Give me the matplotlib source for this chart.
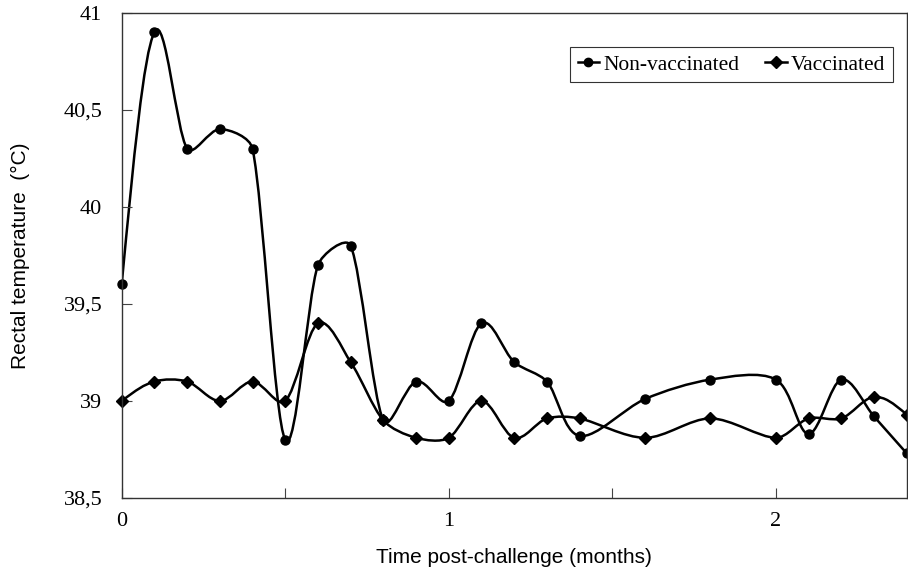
import numpy as np
import matplotlib
matplotlib.use("Agg")
import matplotlib.pyplot as plt
from matplotlib.path import Path
from matplotlib.patches import PathPatch
from matplotlib.lines import Line2D

# ---- data ----
nonvac_x = [0.0, 0.1, 0.2, 0.3, 0.4, 0.5, 0.6, 0.7, 0.8, 0.9, 1.0, 1.1, 1.2, 1.3, 1.4,
            1.6, 1.8, 2.0, 2.1, 2.2, 2.3, 2.4]
nonvac_y = [39.6, 40.9, 40.3, 40.4, 40.3, 38.8, 39.7, 39.8, 38.9, 39.1, 39.0, 39.4, 39.2, 39.1, 38.82,
            39.01, 39.11, 39.11, 38.83, 39.11, 38.92, 38.73]
vac_x = [0.0, 0.1, 0.2, 0.3, 0.4, 0.5, 0.6, 0.7, 0.8, 0.9, 1.0, 1.1, 1.2, 1.3, 1.4,
         1.6, 1.8, 2.0, 2.1, 2.2, 2.3, 2.4]
vac_y = [39.0, 39.1, 39.1, 39.0, 39.1, 39.0, 39.4, 39.2, 38.9, 38.81, 38.81, 39.0, 38.81, 38.91, 38.91,
         38.81, 38.91, 38.81, 38.91, 38.91, 39.02, 38.93]
series_labels = ["Non-vaccinated", "Vaccinated"]
xticks = [0, 0.5, 1, 1.5, 2]
xticklabels = ["0", "", "1", "", "2"]
yticks = [38.5, 39, 39.5, 40, 40.5, 41]
yticklabels = ["38,5", "39", "39,5", "40", "40,5", "41"]
xlabel = "Time post-challenge (months)"
ylabel = "Rectal temperature  (°C)"


def smooth_path(ax, xs, ys, k=0.3, kend=0.5):
    """Smoothed-line Bezier path (Catmull-Rom tangents computed in display
    space, handle lengths limited by the adjacent segment length)."""
    P = ax.transData.transform(np.column_stack([xs, ys]).astype(float))
    n = len(P)

    def unit(v):
        L = np.hypot(*v)
        return (v / L, L) if L > 0 else (v * 0, 0.0)

    back = [None] * n
    fwd = [None] * n
    for i in range(1, n - 1):
        tan = (P[i + 1] - P[i - 1]) / 6.0
        d, L = unit(tan)
        dprev = np.hypot(*(P[i] - P[i - 1]))
        dnext = np.hypot(*(P[i + 1] - P[i]))
        back[i] = P[i] - d * min(L, k * dprev)
        fwd[i] = P[i] + d * min(L, k * dnext)
    # end points: aim toward the neighbour's handle
    d, _ = unit(back[1] - P[0])
    fwd[0] = P[0] + d * kend * np.hypot(*(P[1] - P[0]))
    d, _ = unit(fwd[n - 2] - P[n - 1])
    back[n - 1] = P[n - 1] + d * kend * np.hypot(*(P[n - 1] - P[n - 2]))

    out = [P[0]]
    codes = [Path.MOVETO]
    for i in range(n - 1):
        out += [fwd[i], back[i + 1], P[i + 1]]
        codes += [Path.CURVE4] * 3
    verts = ax.transData.inverted().transform(np.array(out))
    return Path(verts, codes)


fig = plt.figure(figsize=(9.08, 5.74), dpi=100)
ax = fig.add_axes([0.134, 0.1324, 0.8646, 0.8455])
ax.set_xlim(0, 2.4)
ax.set_ylim(38.5, 41)

lw = 1.8
for xs, ys, mk, ms in [(nonvac_x, nonvac_y, "o", 6.5), (vac_x, vac_y, "D", 6.5)]:
    ax.add_patch(PathPatch(smooth_path(ax, xs, ys), fill=False, edgecolor="black", lw=lw))
    ax.plot(xs, ys, linestyle="none", marker=mk, markersize=ms, color="black", clip_on=False)

ax.set_xticks(xticks)
ax.set_xticklabels(xticklabels)
ax.set_yticks(yticks)
ax.set_yticklabels(yticklabels)

serif = ["Liberation Serif", "DejaVu Serif"]
sans = ["Liberation Sans", "DejaVu Sans"]
for lab in ax.get_xticklabels() + ax.get_yticklabels():
    lab.set_fontfamily(serif)
    lab.set_fontsize(16)
ax.tick_params(axis="both", direction="in", length=7, width=0.8, color="#444444")
ax.tick_params(axis="y", pad=14)
ax.tick_params(axis="x", pad=10)
for s in ax.spines.values():
    s.set_linewidth(1.0)
    s.set_color("#333333")

ax.set_xlabel(xlabel, fontfamily=sans, fontsize=15, labelpad=12)
ax.set_ylabel(ylabel, fontfamily=sans, fontsize=15, labelpad=24)

handles = [Line2D([], [], color="black", lw=lw, marker="o", markersize=6),
           Line2D([], [], color="black", lw=lw, marker="D", markersize=6)]
leg = ax.legend(handles, series_labels, loc="upper right", ncol=2,
                bbox_to_anchor=(0.9825, 0.929), borderaxespad=0.0,
                frameon=True, fancybox=False,
                edgecolor="black", handlelength=1.0, handletextpad=0.2,
                columnspacing=1.2, borderpad=0.35, prop={"family": serif, "size": 15.5})
leg.get_frame().set_linewidth(0.8)

fig.savefig("out.png", dpi=100)
